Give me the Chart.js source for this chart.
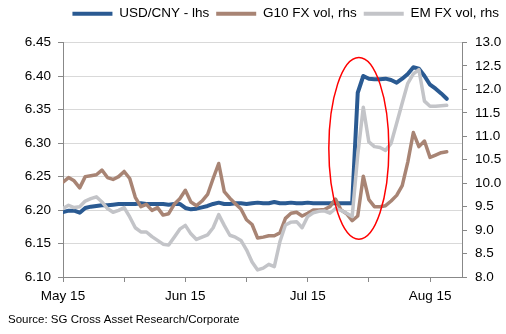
<!DOCTYPE html>
<html lang="en">
<head>
    <meta charset="UTF-8">
    <title>USD/CNY vs FX vol</title>
    <script src="https://cdn.jsdelivr.net/npm/chart.js"></script>
    <style>
        body {
            margin: 0;
            background: #fff;
        }
        .chart-box {
            position: relative;
            width: 506px;
            height: 334px;
        }
    </style>
</head>
<body>
<div class="chart-box">
    <canvas id="fx-chart"></canvas>
</div>

<script>
    // business-day index from May 15
    const tickPos = [0, 11, 22, 33, 44, 55, 66];
    const tickLabels = ['May 15', '', 'Jun 15', '', 'Jul 15', '', 'Aug 15'];

    const usdCny = [
        6.197, 6.199, 6.199, 6.196, 6.203, 6.205, 6.206, 6.207, 6.207, 6.208,
        6.209, 6.209, 6.209, 6.209, 6.210, 6.209, 6.209, 6.209, 6.209, 6.208,
        6.209, 6.209, 6.203, 6.201, 6.202, 6.204, 6.206, 6.209, 6.211, 6.209,
        6.209, 6.210, 6.210, 6.209, 6.210, 6.211, 6.210, 6.210, 6.212, 6.210,
        6.210, 6.211, 6.210, 6.210, 6.211, 6.210, 6.210, 6.210, 6.210, 6.210,
        6.210, 6.210, 6.210, 6.375, 6.400, 6.396, 6.395, 6.395, 6.396, 6.394,
        6.390, 6.396, 6.403, 6.413, 6.411, 6.400, 6.387, 6.381, 6.374, 6.366
    ];

    const g10Vol = [
        10.02, 10.12, 10.05, 9.90, 10.14, 10.16, 10.18, 10.28, 10.12, 10.08,
        10.14, 10.25, 10.10, 9.70, 9.50, 9.55, 9.42, 9.48, 9.32, 9.35,
        9.55, 9.67, 9.85, 9.60, 9.52, 9.62, 9.76, 10.10, 10.42, 9.82,
        9.68, 9.56, 9.45, 9.22, 9.12, 8.83, 8.85, 8.88, 8.88, 8.94,
        9.25, 9.36, 9.38, 9.30, 9.36, 9.43, 9.43, 9.44, 9.50, 9.66,
        9.43, 9.35, 9.20, 9.30, 10.15, 9.65, 9.50, 9.50, 9.52, 9.62,
        9.74, 9.95, 10.45, 11.08, 10.78, 10.90, 10.55, 10.60, 10.65, 10.67
    ];

    const emVol = [
        9.46, 9.53, 9.48, 9.50, 9.62, 9.67, 9.71, 9.60, 9.46, 9.38,
        9.42, 9.48, 9.28, 9.05, 8.96, 8.96, 8.86, 8.78, 8.70, 8.68,
        8.85, 9.02, 9.10, 8.92, 8.80, 8.85, 8.90, 9.05, 9.33, 9.10,
        8.89, 8.85, 8.78, 8.58, 8.32, 8.15, 8.19, 8.27, 8.22, 8.75,
        9.11, 9.17, 9.18, 9.05, 9.29, 9.37, 9.40, 9.41, 9.36, 9.46,
        9.42, 9.36, 9.29, 10.60, 11.62, 10.88, 10.78, 10.76, 10.70, 10.85,
        11.28, 11.71, 12.13, 12.33, 12.42, 11.75, 11.64, 11.64, 11.65, 11.66
    ];

    const days = usdCny.map((v, i) => i);

    // red ring round the devaluation jump (x in days, y in lhs units)
    const ring = { x: 53.2, y: 6.292, rx: 5.4, ry: 0.1356 };

    const fontFamily = '"Liberation Sans", Arial, sans-serif';

    const extras = {
        id: 'extras',
        beforeInit(chart) {
            // leave a gap between legend and plot
            const fit = chart.legend.fit;
            chart.legend.fit = function () {
                fit.call(this);
                this.height += 12;
            };
        },
        afterDatasetsDraw(chart) {
            const ctx = chart.ctx;
            const x = chart.scales.x;
            const y = chart.scales.y;
            const cx = x.getPixelForValue(ring.x);
            const cy = y.getPixelForValue(ring.y);
            const rx = x.getPixelForValue(ring.x + ring.rx) - cx;
            const ry = cy - y.getPixelForValue(ring.y + ring.ry);
            ctx.save();
            ctx.beginPath();
            ctx.ellipse(cx, cy, rx, ry, 0, 0, Math.PI * 2);
            ctx.strokeStyle = '#ff0000';
            ctx.lineWidth = 1.5;
            ctx.stroke();
            ctx.restore();
        },
        afterDraw(chart) {
            const ctx = chart.ctx;
            ctx.save();
            ctx.font = '11.5px ' + fontFamily;
            ctx.fillStyle = '#000';
            ctx.textBaseline = 'middle';
            ctx.fillText('Source: SG Cross Asset Research/Corporate', 8, 320);
            ctx.restore();
        }
    };

    const ctx = document.getElementById('fx-chart').getContext('2d');
    new Chart(ctx, {
        type: 'line',
        data: {
            labels: days,
            datasets: [{
                label: 'USD/CNY - lhs',
                data: usdCny,
                yAxisID: 'y',
                borderColor: '#2a5a92',
                backgroundColor: '#2a5a92',
                borderWidth: 4,
                order: 3
            }, {
                label: 'G10 FX vol, rhs',
                data: g10Vol,
                yAxisID: 'y1',
                borderColor: '#a88474',
                backgroundColor: '#a88474',
                borderWidth: 3.5,
                order: 2
            }, {
                label: 'EM FX vol, rhs',
                data: emVol,
                yAxisID: 'y1',
                borderColor: '#c3c4c8',
                backgroundColor: '#c3c4c8',
                borderWidth: 3.5,
                order: 1
            }]
        },
        options: {
            responsive: true,
            maintainAspectRatio: false,
            animation: false,
            layout: {
                padding: { bottom: 24 }
            },
            elements: {
                point: { radius: 0 },
                line: { tension: 0, borderJoinStyle: 'round', borderCapStyle: 'round' }
            },
            plugins: {
                legend: {
                    position: 'top',
                    align: 'end',
                    labels: {
                        boxWidth: 40,
                        boxHeight: 4,
                        padding: 7,
                        color: '#000',
                        font: { family: fontFamily, size: 13.5 },
                        sort: (a, b) => a.datasetIndex - b.datasetIndex,
                        generateLabels(chart) {
                            const items = Chart.defaults.plugins.legend.labels.generateLabels(chart);
                            items.forEach(item => {
                                item.lineWidth = 0;
                                item.fillStyle = item.strokeStyle;
                            });
                            return items;
                        }
                    }
                },
                tooltip: { enabled: false }
            },
            scales: {
                x: {
                    type: 'linear',
                    min: 0,
                    max: 71.75,
                    afterBuildTicks(scale) {
                        scale.ticks = tickPos.map(v => ({ value: v }));
                    },
                    afterFit(scale) {
                        scale.height = 33;
                    },
                    ticks: {
                        autoSkip: false,
                        maxRotation: 0,
                        padding: 6,
                        color: '#000',
                        font: { family: fontFamily, size: 13.5 },
                        callback: (value) => tickLabels[tickPos.indexOf(value)] || ''
                    },
                    grid: {
                        drawOnChartArea: false,
                        tickLength: 5,
                        tickColor: '#888'
                    },
                    border: { color: '#888' }
                },
                y: {
                    position: 'left',
                    min: 6.10,
                    max: 6.45,
                    afterBuildTicks(scale) {
                        const t = [];
                        for (let k = 0; k <= 7; k++) t.push({ value: 6.10 + k * 0.05 });
                        scale.ticks = t;
                    },
                    afterFit(scale) {
                        scale.width = 63;
                    },
                    ticks: {
                        padding: 7,
                        color: '#000',
                        font: { family: fontFamily, size: 13.5 },
                        callback: (value) => value.toFixed(2)
                    },
                    grid: {
                        color: '#d9d9d9',
                        tickColor: '#888',
                        tickLength: 5
                    },
                    border: { color: '#888' }
                },
                y1: {
                    position: 'right',
                    min: 8,
                    max: 13,
                    afterBuildTicks(scale) {
                        const t = [];
                        for (let k = 0; k <= 10; k++) t.push({ value: 8 + k * 0.5 });
                        scale.ticks = t;
                    },
                    afterFit(scale) {
                        scale.width = 44;
                    },
                    ticks: {
                        padding: 8,
                        color: '#000',
                        font: { family: fontFamily, size: 13.5 },
                        callback: (value) => value.toFixed(1)
                    },
                    grid: {
                        drawOnChartArea: false,
                        tickColor: '#888',
                        tickLength: 5
                    },
                    border: { color: '#888' }
                }
            }
        },
        plugins: [extras]
    });
</script>
</body>
</html>
